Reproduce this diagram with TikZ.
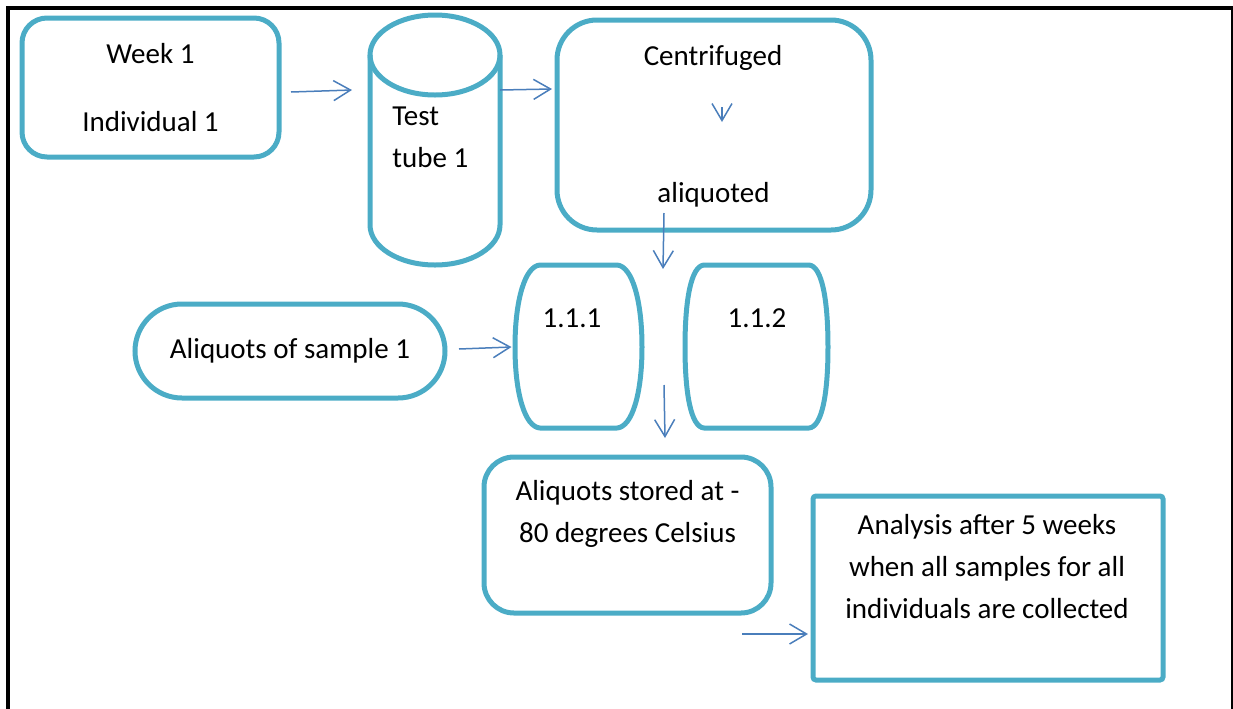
\documentclass[tikz,border=0pt]{standalone}
\usepackage{fontspec}
\setmainfont{Carlito}
\usetikzlibrary{arrows.meta,calc}
\definecolor{boxc}{RGB}{75,172,198}
\definecolor{arrc}{RGB}{74,126,187}
\tikzset{
  box/.style={draw=boxc, line width=2.5pt, inner sep=0pt, rounded corners=#1},
  box/.default=12.5pt,
  ghost/.style={inner sep=0pt, outer sep=0pt},
  barrel/.style={draw=boxc, line width=2.5pt, line join=round},
  txt/.style={inner sep=0pt, align=center, font=\fontsize{14.5}{21}\selectfont},
  arr/.style={draw=arrc, line width=0.75pt, -{Straight Barb[length=8.5pt,width=10pt,line width=0.75pt]}},
  frame/.style={draw=black, line cap=rect}
}
\begin{document}
\begin{tikzpicture}[x=0.5pt,y=-0.5pt]
\useasboundingbox (0,0) rectangle (1233,708);
% frame
\draw[frame, line width=2pt] (8,708) -- (8,8) -- (1231,8);
\draw[frame, line width=1pt] (1232,8) -- (1232,708);

% Week 1 box
\node[box=12.5pt, minimum width=128.5pt, minimum height=69.5pt, txt] (b1) at (150.5,87.5)
  {Week 1\\[13pt]Individual 1};

% test tube (cylinder)
\node[ghost, minimum width=65pt, minimum height=124.5pt] (tube) at (435,140.5) {};
\draw[draw=boxc, line width=2.5pt] (tube.north west) ++(0,39) -- ++(0,170)
  arc[start angle=180, end angle=360, x radius=32.5pt, y radius=20pt] -- ++(0,-170);
\draw[draw=boxc, line width=2.5pt] ($(tube.north)+(0,39)$) ellipse[x radius=32.5pt, y radius=20pt];
\node[txt, align=left, anchor=west] (tt) at (392,137.5) {Test\\tube 1};

% Centrifuged box
\node[box=20pt, minimum width=157pt, minimum height=105pt] (b2) at (714,125) {};
\node[txt] (tc) at (713,58) {Centrifuged};
\node[txt] (ta) at (713.5,195) {aliquoted};

% Aliquots of sample 1
\node[box=23.5pt, minimum width=155pt, minimum height=47pt, txt] (oval) at (290,351)
  {\raisebox{3pt}{Aliquots of sample 1}};

% barrels
\node[ghost, minimum width=64pt, minimum height=81.5pt] (a111) at (578.5,346.5) {};
\draw[barrel]
  (540,265) -- (617,265) .. controls (632,266) and (642,300) .. (642,347)
  .. controls (642,394) and (632,427) .. (617,428)
  -- (540,428) .. controls (525,427) and (515,394) .. (515,347)
  .. controls (515,300) and (525,266) .. cycle;
\node[txt] (t111) at (572,318) {1.1.1};
\node[ghost, minimum width=71.5pt, minimum height=81.5pt] (a112) at (756.5,346.5) {};
\draw[barrel]
  (704,265) -- (809,265) .. controls (822,266) and (828,300) .. (828,347)
  .. controls (828,394) and (822,427) .. (809,428)
  -- (704,428) .. controls (691,427) and (685,394) .. (685,347)
  .. controls (685,300) and (691,266) .. cycle;
\node[txt] (t112) at (757,318) {1.1.2};

% Aliquots stored
\node[box=15pt, minimum width=143.5pt, minimum height=78pt] (b3) at (627.5,535) {};
\node[txt] (t3) at (627.5,513.5) {Aliquots stored at -\\80 degrees Celsius};

% Analysis
\node[box=1.5pt, minimum width=175pt, minimum height=92pt] (b4) at (988,588) {};
\node[txt] (t4) at (987,566.5) {Analysis after 5 weeks\\when all samples for all\\individuals are collected};

% arrows
\draw[arr] ($(b1.east)+(9.5,4.5)$) -- ($(tube.west)+(-18,-50.5)$);
\draw[arr] ($(tube.east)+(0,-50.5)$) -- ($(b2.west)+(-2.5,-36)$);
\draw[arr] ($(b2.center)+(8,-18)$) -- ($(b2.center)+(8,-3)$);
\draw[arr] ($(b2.south)+(-50,-19.5)$) -- ($(b2.south)+(-51,36.5)$);
\draw[arr] ($(oval.east)+(11.5,-2)$) -- ($(a111.west)+(-3,0.5)$);
\draw[arr] ($(b3.north)+(36.5,-69.5)$) -- ($(b3.north)+(37.5,-16.5)$);
\draw[arr] ($(b4.west)+(-68.5,46)$) -- ($(b4.west)+(-2.5,46)$);
\end{tikzpicture}
\end{document}
